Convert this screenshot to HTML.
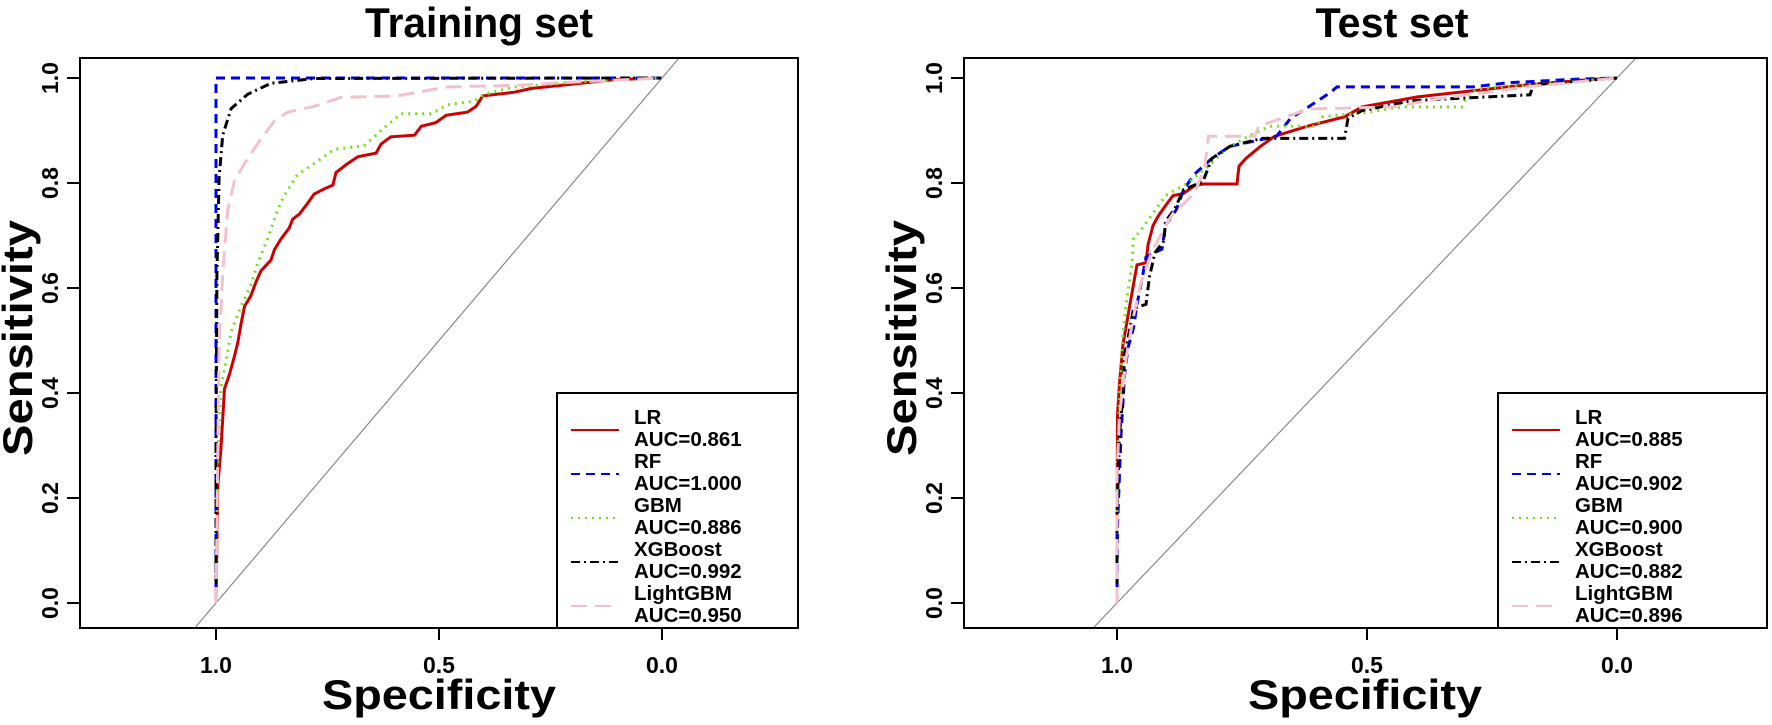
<!DOCTYPE html>
<html><head><meta charset="utf-8"><style>
html,body{margin:0;padding:0;background:#fff;width:1772px;height:725px;overflow:hidden;}
svg{display:block;font-family:"Liberation Sans",Arial,sans-serif;font-weight:bold;}
</style></head><body>
<svg id="chart" width="1772" height="725" viewBox="0 0 1772 725"></svg>
<script>
const models = ["LR","RF","GBM","XGBoost","LightGBM"];
const trainAUC = ["0.861","1.000","0.886","0.992","0.950"];
const testAUC = ["0.885","0.902","0.900","0.882","0.896"];
const xTicks = [1.0,0.5,0.0];
const xTickLabels = ["1.0","0.5","0.0"];
const yTicks = [0,0.2,0.4,0.6,0.8,1.0];
const yTickLabels = ["0.0","0.2","0.4","0.6","0.8","1.0"];

// Training set: [specificity, sensitivity]
const trainLR = [[1,0],[0.996,0.224],[0.989,0.293],[0.981,0.408],[0.970,0.435],[0.959,0.469],[0.951,0.497],[0.944,0.531],[0.936,0.565],[0.922,0.585],[0.910,0.612],[0.899,0.633],[0.877,0.653],[0.869,0.673],[0.854,0.694],[0.836,0.714],[0.828,0.731],[0.813,0.741],[0.794,0.762],[0.780,0.779],[0.757,0.789],[0.738,0.796],[0.731,0.820],[0.705,0.837],[0.682,0.850],[0.641,0.857],[0.630,0.874],[0.608,0.888],[0.555,0.891],[0.540,0.908],[0.507,0.915],[0.484,0.929],[0.436,0.935],[0.417,0.946],[0.402,0.966],[0.331,0.973],[0.294,0.980],[0.182,0.990],[0.107,0.997],[0,1]];
const trainRF = [[1,0],[1,1],[0,1]];
const trainGBM = [[1,0],[0.996,0.286],[0.989,0.408],[0.966,0.517],[0.944,0.565],[0.922,0.605],[0.907,0.646],[0.884,0.694],[0.862,0.748],[0.847,0.776],[0.817,0.816],[0.780,0.837],[0.735,0.864],[0.668,0.871],[0.623,0.905],[0.585,0.932],[0.518,0.932],[0.481,0.949],[0.421,0.956],[0.398,0.969],[0.331,0.983],[0.182,0.993],[0,1]];
const trainXGB = [[1,0],[1,0.286],[0.998,0.626],[0.993,0.810],[0.985,0.891],[0.966,0.942],[0.929,0.969],[0.877,0.990],[0.780,0.999],[0,1]];
const trainLGBM = [[1,0],[0.996,0.286],[0.993,0.490],[0.985,0.626],[0.974,0.748],[0.959,0.803],[0.936,0.837],[0.899,0.884],[0.869,0.918],[0.839,0.935],[0.780,0.946],[0.720,0.963],[0.593,0.966],[0.481,0.983],[0.331,0.986],[0.182,0.993],[0,1]];

// Test set
const testLR = [[1,0],[1,0.147],[0.999,0.358],[0.995,0.418],[0.988,0.493],[0.981,0.531],[0.970,0.591],[0.960,0.644],[0.942,0.648],[0.938,0.682],[0.928,0.719],[0.917,0.738],[0.903,0.757],[0.888,0.776],[0.867,0.780],[0.845,0.795],[0.828,0.798],[0.760,0.798],[0.756,0.832],[0.742,0.847],[0.713,0.870],[0.685,0.889],[0.620,0.908],[0.545,0.926],[0.510,0.945],[0.399,0.964],[0.181,0.987],[0.038,0.998],[0,1]];
const testRF = [[1,0],[0.999,0.147],[0.992,0.320],[0.985,0.433],[0.978,0.486],[0.967,0.524],[0.960,0.569],[0.949,0.622],[0.942,0.659],[0.910,0.674],[0.903,0.719],[0.881,0.750],[0.867,0.787],[0.845,0.817],[0.810,0.847],[0.774,0.870],[0.681,0.889],[0.653,0.923],[0.617,0.945],[0.574,0.972],[0.560,0.983],[0.288,0.983],[0.217,0.991],[0.074,0.998],[0,1]];
const testGBM = [[1,0],[1,0.207],[0.995,0.396],[0.988,0.509],[0.981,0.576],[0.970,0.644],[0.967,0.697],[0.956,0.705],[0.917,0.757],[0.903,0.776],[0.860,0.799],[0.817,0.832],[0.781,0.866],[0.738,0.889],[0.695,0.908],[0.603,0.908],[0.588,0.926],[0.503,0.934],[0.431,0.945],[0.310,0.945],[0.303,0.960],[0.281,0.979],[0.181,0.987],[0,1]];
const testXGB = [[1,0],[1,0.170],[0.995,0.320],[0.988,0.396],[0.985,0.471],[0.974,0.524],[0.967,0.561],[0.942,0.569],[0.935,0.622],[0.924,0.667],[0.906,0.690],[0.903,0.727],[0.885,0.750],[0.867,0.787],[0.828,0.803],[0.810,0.847],[0.774,0.870],[0.710,0.885],[0.545,0.885],[0.538,0.923],[0.510,0.938],[0.410,0.957],[0.174,0.968],[0.167,0.987],[0,1]];
const testLGBM = [[1,0],[1,0.245],[0.995,0.358],[0.981,0.471],[0.967,0.546],[0.953,0.607],[0.931,0.667],[0.903,0.719],[0.888,0.742],[0.845,0.780],[0.824,0.832],[0.817,0.889],[0.724,0.889],[0.717,0.908],[0.617,0.941],[0.446,0.945],[0.360,0.960],[0.181,0.983],[0,1]];

const styles = [
 {c:"#cc0000",d:""},
 {c:"#0000ee",d:"9,6"},
 {c:"#6ee020",d:"2,5"},
 {c:"#000000",d:"9,4,2,4"},
 {c:"#f2c2cc",d:"16,8"}
];
const NS="http://www.w3.org/2000/svg";
const svg=document.getElementById("chart");
function mk(tag,attrs,parent){const e=document.createElementNS(NS,tag);for(const k in attrs)e.setAttribute(k,attrs[k]);(parent||svg).appendChild(e);return e;}

function panel(p){
  const g=mk("g",{});
  
  
  const xS=s=>p.x0spec0-p.xs*s;
  const yS=v=>603-525*v;
  const cid="clip"+p.key;
  const cp=mk("clipPath",{id:cid},g);
  mk("rect",{x:p.bx0,y:58,width:p.bx1-p.bx0,height:570},cp);
  const diag=mk("line",{x1:xS(2),y1:yS(-1),x2:xS(-1),y2:yS(2),stroke:"#8a8a8a","stroke-width":1.2,"clip-path":`url(#${cid})`},g);
  
  
  p.series.forEach((ser,i)=>{
    const pts=ser.map(d=>xS(d[0]).toFixed(1)+","+yS(d[1]).toFixed(1)).join(" ");
    const pl=mk("polyline",{points:pts,fill:"none",stroke:styles[i].c,"stroke-width":3,"stroke-dasharray":styles[i].d,"stroke-linejoin":"miter","clip-path":`url(#${cid})`},g);
    
    
  });
  const box=mk("rect",{x:p.bx0,y:58,width:p.bx1-p.bx0,height:570,fill:"none",stroke:"#000","stroke-width":2},g);
  
  
  xTicks.forEach((t,i)=>{
    const x=xS(t);
    mk("line",{x1:x,y1:628,x2:x,y2:640,stroke:"#000","stroke-width":2},g);
    const tl=mk("text",{x:x,y:673,"text-anchor":"middle","font-size":23},g);
    tl.textContent=xTickLabels[i];
    
    
  });
  yTicks.forEach((t,i)=>{
    const y=yS(t);
    mk("line",{x1:p.bx0,y1:y,x2:p.bx0-13,y2:y,stroke:"#000","stroke-width":2},g);
    const tl=mk("text",{x:p.bx0-22,y:y,"text-anchor":"middle","font-size":23,transform:`rotate(-90 ${p.bx0-22} ${y})`},g);
    tl.textContent=yTickLabels[i];
    
    
  });
  const ti=mk("text",{x:p.tx,y:37,"text-anchor":"middle","font-size":42,textLength:p.tw,lengthAdjust:"spacingAndGlyphs"},g);
  ti.textContent=p.title;
  
  
  const xl=mk("text",{x:p.xlx,y:709,"text-anchor":"middle","font-size":42,textLength:234,lengthAdjust:"spacingAndGlyphs"},g);
  xl.textContent="Specificity";
  
  
  const yx=p.bx0-48, yy=338;
  const yl=mk("text",{x:yx,y:yy,"text-anchor":"middle","font-size":42,textLength:236,lengthAdjust:"spacingAndGlyphs",transform:`rotate(-90 ${yx} ${yy})`},g);
  yl.textContent="Sensitivity";
  
  
  const lg=mk("g",{},g);
  
  
  mk("rect",{x:p.lx,y:393,width:p.bx1-p.lx,height:235,fill:"#fff",stroke:"#000","stroke-width":2},lg);
  models.forEach((m,i)=>{
    const by=424+i*44;
    const ln=mk("line",{x1:p.lx+14,y1:by+6,x2:p.lx+62,y2:by+6,stroke:styles[i].c,"stroke-width":2,"stroke-dasharray":styles[i].d},lg);
    
    
    const t1=mk("text",{x:p.lx+77,y:by,"font-size":20.5},lg);
    t1.textContent=m;
    
    
    const t2=mk("text",{x:p.lx+77,y:by+22,"font-size":20.5},lg);
    t2.textContent="AUC="+p.auc[i];
    
    
  });
}
panel({key:"a",name:"training-set-panel",bx0:80,bx1:798,x0spec0:662,xs:446,title:"Training set",tx:479,tw:228,xlx:439,lx:557,auc:trainAUC,
  series:[trainLR,trainRF,trainGBM,trainXGB,trainLGBM]});
panel({key:"b",name:"test-set-panel",bx0:964,bx1:1767,x0spec0:1617,xs:500,title:"Test set",tx:1392,tw:153,xlx:1365,lx:1498,auc:testAUC,
  series:[testLR,testRF,testGBM,testXGB,testLGBM]});
</script>
</body></html>
